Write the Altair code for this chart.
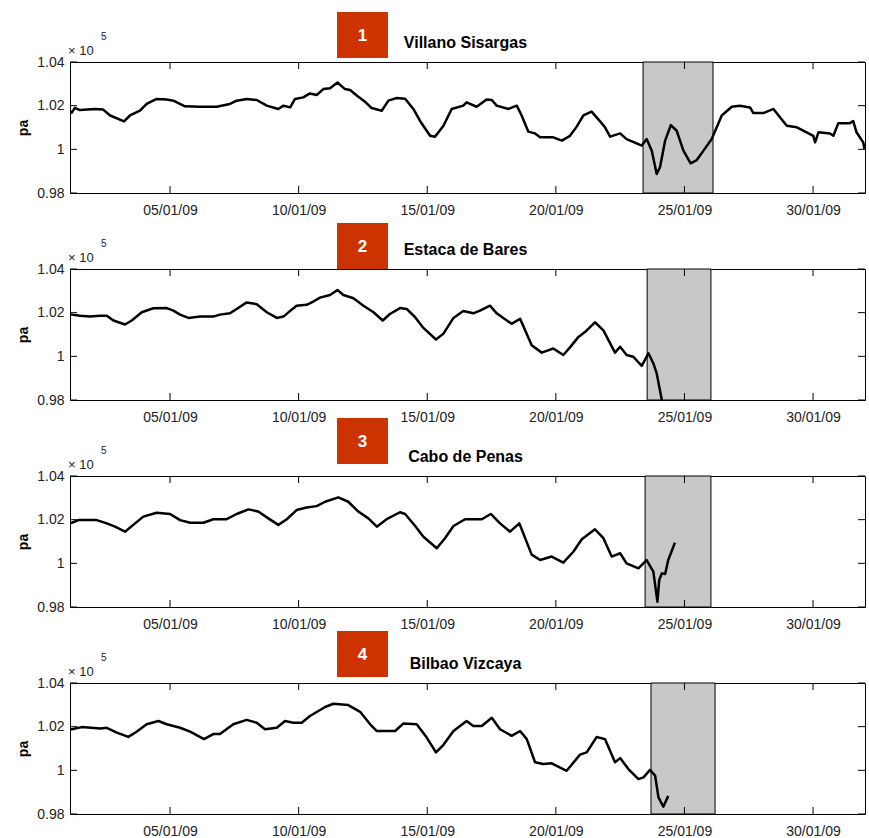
import altair as alt
import pandas as pd

# ---------------- data ----------------
STATIONS = ["Villano Sisargas", "Estaca de Bares", "Cabo de Penas", "Bilbao Vizcaya"]
NUMBERS = ["1", "2", "3", "4"]

# (day of January 2009, pressure in units of 10^5 Pa)
SERIES_1 = [
    (1.12, 1.0175), (1.18, 1.0168), (1.30, 1.019), (1.50, 1.018), (2.08, 1.0185), (2.40, 1.0182),
    (2.67, 1.0155), (3.21, 1.0128), (3.44, 1.0155), (3.83, 1.0177), (4.09, 1.0208), (4.48, 1.0231),
    (4.87, 1.0228), (5.13, 1.0223), (5.58, 1.0197), (6.17, 1.0195), (6.81, 1.0195), (7.33, 1.0208),
    (7.59, 1.0223), (7.98, 1.0231), (8.37, 1.0226), (8.76, 1.020), (9.21, 1.0185), (9.41, 1.020),
    (9.67, 1.0192), (9.86, 1.0231), (10.18, 1.0238), (10.44, 1.0256), (10.70, 1.0249), (10.96, 1.0276),
    (11.22, 1.028), (11.51, 1.0306), (11.80, 1.0276), (12.00, 1.0272), (12.32, 1.0241), (12.58, 1.0218),
    (12.84, 1.0189), (13.23, 1.0177), (13.49, 1.0223), (13.81, 1.0235), (14.14, 1.0232), (14.46, 1.0185),
    (14.72, 1.013), (15.11, 1.0062), (15.30, 1.0058), (15.63, 1.0108), (15.95, 1.0185), (16.40, 1.020),
    (16.53, 1.0215), (16.92, 1.0195), (17.31, 1.0228), (17.51, 1.0226), (17.70, 1.020), (18.16, 1.0185),
    (18.48, 1.020), (18.67, 1.0155), (18.93, 1.0081), (19.19, 1.0073), (19.39, 1.0055), (19.90, 1.0055),
    (20.23, 1.004), (20.55, 1.0062), (20.81, 1.0104), (21.07, 1.0155), (21.39, 1.0173), (21.72, 1.0128),
    (21.91, 1.0101), (22.11, 1.0058), (22.50, 1.0073), (22.75, 1.0047), (23.14, 1.0027), (23.34, 1.0017),
    (23.53, 1.0047), (23.73, 0.9994), (23.92, 0.9887), (24.05, 0.9918), (24.25, 1.004), (24.47, 1.0111),
    (24.70, 1.0085), (24.96, 0.9994), (25.24, 0.9936), (25.48, 0.9951), (25.74, 0.9994), (26.06, 1.0047),
    (26.45, 1.0155), (26.84, 1.0195), (27.16, 1.020), (27.55, 1.0192), (27.68, 1.0166), (28.07, 1.0166),
    (28.46, 1.0185), (28.72, 1.0146), (28.98, 1.0108), (29.37, 1.0101), (29.75, 1.0078), (30.01, 1.0062),
    (30.08, 1.0032), (30.21, 1.0078), (30.66, 1.0073), (30.79, 1.0062), (30.98, 1.0119), (31.43, 1.0119),
    (31.56, 1.013), (31.69, 1.0078), (31.95, 1.0032), (32.0, 1.0002),
]
SERIES_2 = [
    (1.12, 1.0192), (1.18, 1.0191), (1.50, 1.0186), (1.89, 1.0182), (2.28, 1.0186), (2.54, 1.0186),
    (2.80, 1.0164), (3.25, 1.0146), (3.51, 1.0164), (3.90, 1.0202), (4.35, 1.0220), (4.87, 1.0221),
    (5.13, 1.0209), (5.39, 1.0191), (5.71, 1.0176), (6.17, 1.0182), (6.68, 1.0182), (6.94, 1.0191),
    (7.33, 1.0197), (7.59, 1.0217), (7.98, 1.0247), (8.37, 1.0239), (8.76, 1.0202), (9.15, 1.0176),
    (9.41, 1.0182), (9.67, 1.0208), (9.92, 1.0232), (10.31, 1.0236), (10.57, 1.0251), (10.83, 1.0269),
    (11.22, 1.0281), (11.51, 1.0304), (11.74, 1.0281), (12.13, 1.0266), (12.52, 1.0232), (12.91, 1.0202),
    (13.27, 1.0164), (13.55, 1.0194), (13.94, 1.0221), (14.20, 1.0217), (14.53, 1.0179), (14.85, 1.0130),
    (15.34, 1.0077), (15.63, 1.0104), (16.02, 1.0176), (16.40, 1.0208), (16.79, 1.0197), (17.05, 1.0209),
    (17.44, 1.0232), (17.70, 1.0197), (18.28, 1.0149), (18.61, 1.0172), (19.06, 1.0051), (19.45, 1.0017),
    (19.90, 1.0036), (20.29, 1.0006), (20.55, 1.0041), (20.88, 1.0089), (21.13, 1.0111), (21.52, 1.0156),
    (21.85, 1.0119), (22.30, 1.0017), (22.50, 1.0044), (22.75, 1.0006), (23.01, 0.9998), (23.34, 0.9956),
    (23.60, 1.0014), (23.79, 0.9968), (23.92, 0.9923), (24.12, 0.9800), (24.18, 0.9780),
]
SERIES_3 = [
    (1.12, 1.0185), (1.18, 1.0186), (1.44, 1.0198), (2.15, 1.0198), (2.54, 1.0183), (2.86, 1.0168),
    (3.25, 1.0145), (3.57, 1.0176), (3.96, 1.0214), (4.48, 1.0232), (5.00, 1.0226), (5.39, 1.0198),
    (5.78, 1.0186), (6.30, 1.0186), (6.68, 1.0202), (7.20, 1.0202), (7.59, 1.0226), (8.05, 1.0247),
    (8.43, 1.0237), (8.82, 1.0206), (9.21, 1.0176), (9.54, 1.0202), (9.92, 1.0244), (10.31, 1.0256),
    (10.70, 1.0262), (11.03, 1.0282), (11.54, 1.0302), (11.93, 1.0282), (12.32, 1.0237), (12.71, 1.0206),
    (13.04, 1.0168), (13.42, 1.0202), (13.94, 1.0234), (14.14, 1.0226), (14.53, 1.0171), (14.85, 1.0122),
    (15.37, 1.0069), (15.69, 1.0115), (16.02, 1.0171), (16.47, 1.0202), (17.12, 1.0202), (17.47, 1.0226),
    (17.83, 1.0183), (18.22, 1.0145), (18.58, 1.0183), (19.06, 1.0040), (19.39, 1.0015), (19.84, 1.0031),
    (20.29, 1.0003), (20.68, 1.0053), (21.01, 1.0110), (21.52, 1.0156), (21.85, 1.0115), (22.17, 1.0031),
    (22.50, 1.0046), (22.75, 1.0000), (23.21, 0.9977), (23.53, 1.0015), (23.79, 0.9962), (23.95, 0.9824),
    (24.02, 0.9924), (24.12, 0.9954), (24.25, 0.9951), (24.37, 1.0015), (24.63, 1.0095),
]
SERIES_4 = [
    (1.12, 1.0188), (1.18, 1.0188), (1.57, 1.0198), (2.28, 1.0192), (2.54, 1.0195), (2.93, 1.0173),
    (3.38, 1.0153), (3.70, 1.0177), (4.09, 1.0211), (4.55, 1.0226), (4.87, 1.0211), (5.39, 1.0195),
    (5.78, 1.0177), (6.32, 1.0143), (6.68, 1.0166), (6.94, 1.0166), (7.46, 1.0211), (7.98, 1.0231),
    (8.37, 1.0218), (8.69, 1.0188), (9.15, 1.0195), (9.47, 1.0226), (9.80, 1.0218), (10.12, 1.0218),
    (10.44, 1.0249), (11.03, 1.0290), (11.35, 1.0305), (11.93, 1.0299), (12.39, 1.0268), (12.78, 1.0211),
    (13.04, 1.0180), (13.75, 1.0180), (14.07, 1.0214), (14.59, 1.0211), (14.98, 1.0150), (15.34, 1.0082),
    (15.63, 1.0117), (16.02, 1.0180), (16.53, 1.0226), (16.79, 1.0203), (17.12, 1.0203), (17.51, 1.0241),
    (17.83, 1.0188), (18.28, 1.0158), (18.61, 1.0180), (18.87, 1.0143), (19.19, 1.0037), (19.51, 1.0029),
    (19.84, 1.0032), (20.42, 0.9998), (20.94, 1.0072), (21.20, 1.0082), (21.59, 1.0153), (21.91, 1.0143),
    (22.30, 1.0037), (22.50, 1.0056), (22.82, 1.0006), (23.21, 0.9960), (23.41, 0.9968), (23.66, 1.0002),
    (23.86, 0.9976), (23.99, 0.9876), (24.18, 0.9833), (24.37, 0.9883),
]
ALL_SERIES = [SERIES_1, SERIES_2, SERIES_3, SERIES_4]

# shaded storm window per station (start day, end day)
SHADES = [(23.39, 26.11), (23.55, 26.03), (23.47, 26.03), (23.70, 26.19)]

X_TICK_DAYS = [5, 10, 15, 20, 25, 30]
X_RANGE_DAYS = (1.11, 32.02)
Y_TICKS = [0.98, 1.0, 1.02, 1.04]
Y_RANGE = (0.98, 1.04)
Y_TITLE = "pa"
MULT_TEXT = "× 10"
EXP_TEXT = "5"

# ---------------- layout / style ----------------
W, H = 795, 131
TICK = 7
BOX_TOPS = [-50, -46, -58, -52]
BOX_H = 46
BOX_X = (267, 318)
FONT = "Liberation Sans"
RED = "#cc3300"

BASE_MS = pd.Timestamp("2009-01-01").value // 10**6
DAY_MS = 86400000


def to_ms(d):
    return BASE_MS + (d - 1) * DAY_MS


xscale = alt.Scale(type="utc", domain=[to_ms(X_RANGE_DAYS[0]), to_ms(X_RANGE_DAYS[1])])
yscale = alt.Scale(domain=list(Y_RANGE), nice=False, zero=False)

xaxis = alt.Axis(values=[to_ms(d) for d in X_TICK_DAYS], format="%d/%m/%y",
                 ticks=False, tickSize=0, domain=False, grid=False,
                 labelPadding=10, labelFontSize=14, labelFont=FONT,
                 labelColor="#222", labelFlush=False, title=None)
yaxis = alt.Axis(values=Y_TICKS, format="~g", ticks=False, tickSize=0,
                 domain=False, grid=False, labelPadding=6, labelFontSize=14,
                 labelFont=FONT, labelColor="#222", title=Y_TITLE,
                 titleFont=FONT, titleFontSize=14, titleFontWeight="bold",
                 titleColor="black", titlePadding=6)


def X(field):
    return alt.X(field, scale=xscale, axis=xaxis)


def Y(field):
    return alt.Y(field, scale=yscale, axis=yaxis)


def panel(i):
    df = pd.DataFrame(ALL_SERIES[i], columns=["day", "p"])
    df["t"] = df["day"].map(to_ms)

    s0, s1 = SHADES[i]
    sdf = pd.DataFrame({"t": [to_ms(s0)], "end": [to_ms(s1)]})
    shade = alt.Chart(sdf).mark_rect(fill="#c8c8c8", stroke="black", strokeWidth=1).encode(
        x=X("t:T"), x2="end:T", y=alt.value(0), y2=alt.value(H))

    xt = pd.DataFrame({"t": [to_ms(d) for d in X_TICK_DAYS]})
    yt = pd.DataFrame({"p": Y_TICKS})
    xt_bottom = alt.Chart(xt).mark_rule(color="black", strokeWidth=1).encode(
        x=X("t:T"), y=alt.value(H), y2=alt.value(H - TICK))
    xt_top = alt.Chart(xt).mark_rule(color="black", strokeWidth=1).encode(
        x=X("t:T"), y=alt.value(0), y2=alt.value(TICK))
    yt_left = alt.Chart(yt).mark_rule(color="black", strokeWidth=1).encode(
        y=Y("p:Q"), x=alt.value(0), x2=alt.value(TICK))
    yt_right = alt.Chart(yt).mark_rule(color="black", strokeWidth=1).encode(
        y=Y("p:Q"), x=alt.value(W - TICK), x2=alt.value(W))

    line = alt.Chart(df).mark_line(color="black", strokeWidth=2.5, clip=True,
                                   strokeJoin="round").encode(
        x=X("t:T"), y=Y("p:Q"))

    ann = pd.DataFrame({"name": [STATIONS[i]], "num": [NUMBERS[i]],
                        "mult": [MULT_TEXT], "exp": [EXP_TEXT]})
    top = BOX_TOPS[i]
    box = alt.Chart(ann).mark_rect(color=RED).encode(
        x=alt.value(BOX_X[0]), x2=alt.value(BOX_X[1]),
        y=alt.value(top), y2=alt.value(top + BOX_H))
    num = alt.Chart(ann).mark_text(font=FONT, fontSize=17, fontWeight="bold", color="white",
                                   align="center", baseline="alphabetic").encode(
        text="num:N", x=alt.value((BOX_X[0] + BOX_X[1]) / 2), y=alt.value(top + BOX_H / 2 + 6))
    name = alt.Chart(ann).mark_text(font=FONT, fontSize=16, fontWeight="bold", color="black",
                                    align="center", baseline="alphabetic").encode(
        text="name:N", x=alt.value(W / 2 - 2), y=alt.value(-14))
    mult = alt.Chart(ann).mark_text(font=FONT, fontSize=13, color="#222",
                                    align="left", baseline="alphabetic").encode(
        text="mult:N", x=alt.value(-2), y=alt.value(-7))
    exp = alt.Chart(ann).mark_text(font=FONT, fontSize=10, color="#222",
                                   align="left", baseline="alphabetic").encode(
        text="exp:N", x=alt.value(31), y=alt.value(-22))

    return alt.layer(shade, xt_bottom, xt_top, yt_left, yt_right, line,
                     box, num, name, mult, exp).properties(width=W, height=H)


chart = alt.vconcat(*[panel(i) for i in range(4)], spacing=76, bounds="flush").properties(
    padding={"left": 16, "top": 11, "right": 0, "bottom": 0},
    background="white",
).configure_view(stroke="black", strokeWidth=1)

chart.save("out.html", embed_options={"renderer": "svg", "actions": False})
